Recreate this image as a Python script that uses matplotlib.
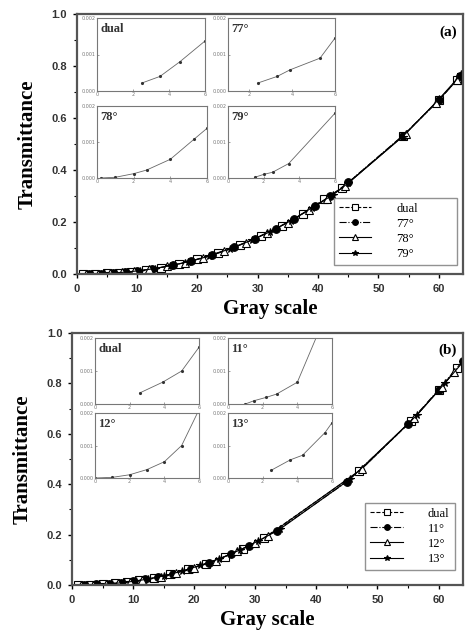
import matplotlib
matplotlib.use('Agg')
import matplotlib.pyplot as plt

# ---------------------------------------------------------------------------
# panel (a) : main curves
a_dual_g = [1, 3, 5, 7, 9, 11.5, 14, 17, 20, 23.5, 27, 30.5, 34, 37.5, 41, 44, 54, 60, 63]
a_dual_t = [0.0, 0.001, 0.002, 0.005, 0.009, 0.016, 0.025, 0.040, 0.056, 0.080, 0.110, 0.146, 0.186, 0.230, 0.288, 0.332, 0.530, 0.668, 0.748]
a_77_g = [2, 4, 6, 8, 10, 12.5, 16, 19, 22.5, 26, 29.5, 33, 36, 39.5, 42, 45, 54, 60, 63.5]
a_77_t = [0.0, 0.0015, 0.004, 0.007, 0.012, 0.019, 0.034, 0.050, 0.075, 0.102, 0.136, 0.175, 0.212, 0.262, 0.300, 0.352, 0.532, 0.668, 0.760]
a_78_g = [1.5, 3.5, 5.5, 7.5, 9.5, 12, 15, 18, 21, 24.5, 28, 31.5, 35, 38.5, 41.5, 44.5, 54.5, 59.5, 63]
a_78_t = [0.0, 0.001, 0.003, 0.006, 0.010, 0.018, 0.029, 0.044, 0.062, 0.088, 0.120, 0.157, 0.198, 0.246, 0.290, 0.340, 0.540, 0.658, 0.745]
a_79_g = [2.5, 4.5, 6.5, 8.5, 10.5, 13, 15.5, 18.5, 22, 25.5, 29, 32, 35.5, 39, 42.5, 45, 54, 60, 63.7]
a_79_t = [0.0, 0.002, 0.004, 0.008, 0.013, 0.021, 0.032, 0.047, 0.069, 0.098, 0.130, 0.162, 0.205, 0.255, 0.305, 0.350, 0.528, 0.672, 0.768]

# panel (b) : main curves
b_dual_g = [1, 3, 5, 7, 9, 11, 13.5, 16, 19, 22, 25, 28, 31.5, 47, 55.5, 60, 63]
b_dual_t = [0.0, 0.001, 0.003, 0.007, 0.012, 0.018, 0.028, 0.042, 0.062, 0.085, 0.113, 0.144, 0.188, 0.451, 0.650, 0.772, 0.860]
b_11_g = [2, 4, 6, 8, 10, 12, 14, 16.5, 19.5, 22.5, 26, 29, 33.5, 45, 55, 60, 64]
b_11_t = [0.0, 0.002, 0.005, 0.009, 0.015, 0.022, 0.031, 0.045, 0.065, 0.089, 0.122, 0.156, 0.215, 0.410, 0.638, 0.775, 0.890]
b_12_g = [1.5, 3.5, 5.5, 7.5, 9.5, 11.5, 14.5, 17, 20, 23.5, 27, 30, 32, 47.5, 56, 60.5, 62.5]
b_12_t = [0.0, 0.001, 0.004, 0.008, 0.013, 0.020, 0.033, 0.048, 0.069, 0.097, 0.133, 0.168, 0.194, 0.462, 0.663, 0.785, 0.845]
b_13_g = [2.5, 4.5, 6.5, 8.5, 10.5, 12.5, 15, 18, 21, 24, 27.5, 30.5, 34, 45.5, 56.5, 61, 64]
b_13_t = [0.0, 0.002, 0.005, 0.010, 0.016, 0.024, 0.036, 0.055, 0.078, 0.103, 0.139, 0.175, 0.221, 0.420, 0.675, 0.800, 0.885]

# insets (x: gray level, y: transmittance)
ia_dual_x = [2.5, 3.5, 4.6, 6]
ia_dual_y = [0.00022, 0.00040, 0.00080, 0.00137]
ia_77_x = [2.4, 3.3, 3.9, 5.3, 6]
ia_77_y = [0.00022, 0.00040, 0.00058, 0.00090, 0.00145]
ia_78_x = [0.2, 1.0, 2.0, 2.7, 4.0, 5.3, 6]
ia_78_y = [0.0, 0.00002, 0.00012, 0.00022, 0.00052, 0.00108, 0.00138]
ia_79_x = [1.5, 2.0, 2.5, 3.4, 6]
ia_79_y = [0.00002, 0.00010, 0.00016, 0.00040, 0.00180]

ib_dual_x = [2.6, 3.9, 5.0, 6]
ib_dual_y = [0.00034, 0.00066, 0.00100, 0.00172]
ib_11_x = [1.0, 1.5, 2.2, 2.8, 4.0, 5.4]
ib_11_y = [0.0, 0.00010, 0.00020, 0.00030, 0.00066, 0.00240]
ib_12_x = [0, 1, 2, 3, 4, 5, 6]
ib_12_y = [0.0, 0.00002, 0.00010, 0.00026, 0.00050, 0.00100, 0.00210]
ib_13_x = [2.5, 3.6, 4.3, 5.6, 6]
ib_13_y = [0.00024, 0.00056, 0.00070, 0.00140, 0.00170]

W, H = 465, 632
serif = ['Liberation Serif', 'DejaVu Serif']
sans = ['Liberation Sans', 'DejaVu Sans']

fig = plt.figure(figsize=(W / 100, H / 100), dpi=100)


def box(x0, y0, x1, y1):
    # pixel box -> figure fraction
    return [x0 / W, 1 - y1 / H, (x1 - x0) / W, (y1 - y0) / H]


def main_panel(rect, series, labels, tag, legend_rect):
    ax = fig.add_axes(rect)
    styles = [
        dict(marker='s', mfc='white', ls='--'),
        dict(marker='o', mfc='black', ls='-.'),
        dict(marker='^', mfc='white', ls='-'),
        dict(marker='*', mfc='black', ls='-'),
    ]
    for (g, t), lab, st in zip(series, labels, styles):
        ax.plot(g, t, color='black', lw=0.8, ms=5.5, mec='black', mew=0.8,
                label=lab, **st)
    ax.set_xlim(0, 64)
    ax.set_ylim(0, 1.0)
    ax.set_xticks([0, 10, 20, 30, 40, 50, 60])
    ax.set_xticks(range(5, 64, 10), minor=True)
    ax.set_yticks([0.0, 0.2, 0.4, 0.6, 0.8, 1.0])
    ax.set_yticks([0.1, 0.3, 0.5, 0.7, 0.9], minor=True)
    ax.tick_params(direction='out', length=3, width=1, labelsize=8, pad=4)
    ax.tick_params(which='minor', direction='out', length=2, width=0.8)
    for lb in ax.get_xticklabels() + ax.get_yticklabels():
        lb.set_family(sans)
        lb.set_fontweight('bold')
        lb.set_color('#333333')
    for sp in ax.spines.values():
        sp.set_linewidth(1.6)
        sp.set_color('#555555')
    ax.set_xlabel('Gray scale', family=serif, fontweight='bold', fontsize=15, labelpad=4)
    ax.set_ylabel('Transmittance', family=serif, fontweight='bold', fontsize=15, labelpad=10)
    ax.text(0.985, 0.93, tag, transform=ax.transAxes, ha='right', va='center',
            family=serif, fontweight='bold', fontsize=11)
    leg = ax.legend(loc='lower left', bbox_to_anchor=legend_rect, mode='expand',
                    prop={'family': serif, 'size': 9}, frameon=True, fancybox=False,
                    edgecolor='#777777', handlelength=2.6, labelspacing=0.25,
                    borderaxespad=0, handletextpad=2.0, markerscale=0.75)
    leg.get_frame().set_linewidth(1.0)
    return ax


def inset(rect, x, y, lab, xlim, xticks):
    ax = fig.add_axes(rect)
    ax.plot(x, y, color='#666666', lw=0.6, marker='.', ms=2.5, mfc='#333333', mec='#333333')
    ax.set_xlim(*xlim)
    ax.set_ylim(0, 0.002)
    ax.set_xticks(xticks)
    ax.set_yticks([0, 0.001, 0.002])
    ax.set_yticklabels(['0.000', '0.001', '0.002'])
    ax.tick_params(direction='in', length=1.5, width=0.5, labelsize=3.5, pad=1,
                   colors='#777777')
    for sp in ax.spines.values():
        sp.set_linewidth(0.8)
        sp.set_color('#777777')
    ax.text(0.03, 0.93, lab, transform=ax.transAxes, ha='left', va='top',
            family=serif, fontweight='bold', fontsize=9, color='#333333')
    return ax


main_panel(box(76.5, 14, 463, 274),
           [(a_dual_g, a_dual_t), (a_77_g, a_77_t), (a_78_g, a_78_t), (a_79_g, a_79_t)],
           ['dual', '77°', '78°', '79°'], '(a)', (0.665, 0.035, 0.32, 0.0))
inset(box(97, 18, 205, 91), ia_dual_x, ia_dual_y, 'dual', (0, 6), [0, 2, 4, 6])
inset(box(228, 18, 335, 91), ia_77_x, ia_77_y, '77°', (1, 6), [2, 4, 6])
inset(box(97, 106, 207, 178), ia_78_x, ia_78_y, '78°', (0, 6), [0, 2, 4, 6])
inset(box(228, 106, 335, 178), ia_79_x, ia_79_y, '79°', (0, 6), [0, 2, 4, 6])

main_panel(box(72, 333, 463, 585),
           [(b_dual_g, b_dual_t), (b_11_g, b_11_t), (b_12_g, b_12_t), (b_13_g, b_13_t)],
           ['dual', '11°', '12°', '13°'], '(b)', (0.75, 0.06, 0.23, 0.0))
inset(box(95, 338, 199, 404), ib_dual_x, ib_dual_y, 'dual', (0, 6), [0, 2, 4, 6])
inset(box(228, 338, 332, 404), ib_11_x, ib_11_y, '11°', (0, 6), [0, 2, 4, 6])
inset(box(95, 413, 199, 478), ib_12_x, ib_12_y, '12°', (0, 6), [0, 2, 4, 6])
inset(box(228, 413, 332, 478), ib_13_x, ib_13_y, '13°', (0, 6), [0, 2, 4, 6])

fig.savefig('out.png', dpi=100)
